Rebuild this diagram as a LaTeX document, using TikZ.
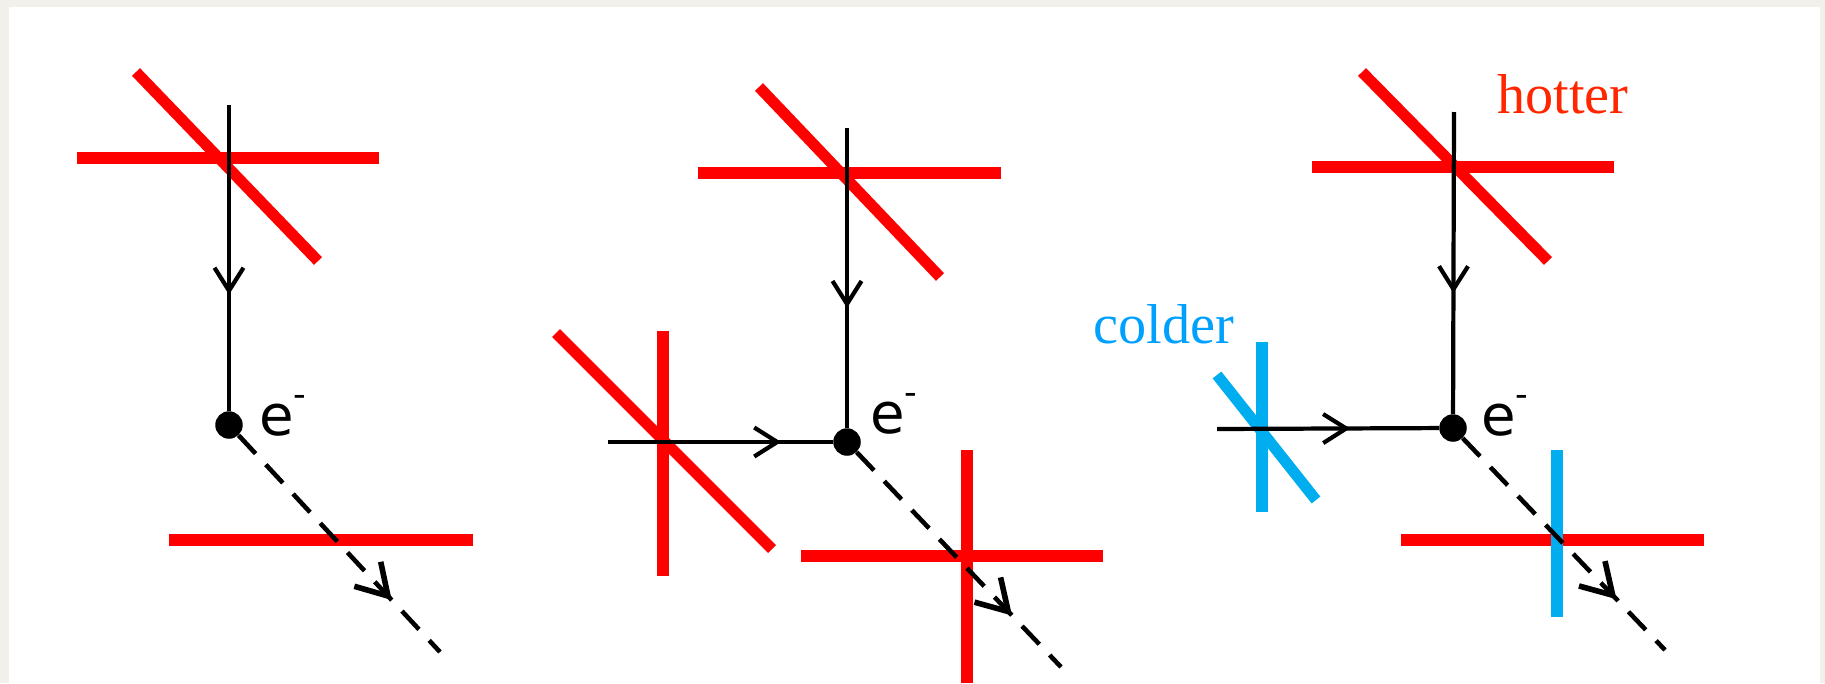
\documentclass[tikz,border=0pt]{standalone}
\usepackage{fontspec}
\setmainfont{Liberation Serif}
\newfontfamily\elfont{DejaVu Sans}
\usetikzlibrary{arrows.meta,decorations.markings}
\definecolor{hotred}{RGB}{255,0,0}
\definecolor{hottext}{RGB}{255,38,0}
\definecolor{coldblue}{RGB}{0,174,239}
\definecolor{coldtext}{RGB}{0,160,255}
\definecolor{slidebg}{RGB}{242,240,235}
\newcommand{\elec}{e\raisebox{0.5em}{\fontsize{20}{20}\selectfont -}}

\begin{document}
\begin{tikzpicture}[x=0.02cm, y=-0.02cm,
  hot/.style={hotred, line width=6.3pt},
  cold/.style={coldblue, line width=6.3pt},
  electron/.style={circle, fill=black, inner sep=0pt, minimum size=0.55cm},
  elabel/.style={font=\elfont\fontsize{32}{36}\selectfont, inner sep=0pt, anchor=base west},
  tag/.style={font=\fontsize{32}{38}\selectfont, inner sep=0pt, anchor=base west},
  beam/.style={line width=2.4pt, decoration={markings, mark=at position #1 with {\arrow{Straight Barb[length=0.46cm, width=0.58cm]}}}, postaction={decorate}},
  scatter/.style={line width=2.6pt, dash pattern=on 0.5cm off 0.3cm, decoration={markings, mark=at position #1 with {\arrow{Straight Barb[length=0.6cm, width=0.72cm, line width=3.2pt]}}}, postaction={decorate}},
]
  \fill[slidebg] (0,0) rectangle (1825,683);
  \fill[white] (9,7) rectangle (1820,683);
  \useasboundingbox (0,0) rectangle (1825,683);

  \draw[hot] (77,158) -- (379,158);
  \draw[hot] (136,72) -- (318,261);
  \draw[hot] (169,540) -- (473,540);
  \coordinate (s1) at (229,105);
  \coordinate (t1) at (440,652);
  \node[electron] (d1) at (229,425) {};
  \node[elabel] (e1) at (259,435) {\elec};
  \draw[beam=0.62] (s1) -- (d1);
  \draw[scatter=0.76] (d1) -- (t1);

  \draw[hot] (698,173) -- (1001,173);
  \draw[hot] (759,87) -- (940,277);
  \draw[hot] (663,331) -- (663,576);
  \draw[hot] (556,333) -- (772,549);
  \draw[hot] (801,556) -- (1103,556);
  \draw[hot] (967,450) -- (967,683);
  \coordinate (s2a) at (847,128);
  \coordinate (s2b) at (608,442);
  \coordinate (t2) at (1061,667);
  \node[electron] (d2) at (847,442) {};
  \node[elabel] (e2) at (870,433) {\elec};
  \draw[beam=0.6] (s2a) -- (d2);
  \draw[beam=0.77] (s2b) -- (d2);
  \draw[scatter=0.76] (d2) -- (t2);

  \draw[hot] (1312,167) -- (1614,167);
  \draw[hot] (1362,72) -- (1548,261);
  \draw[cold] (1262,342) -- (1262,512);
  \draw[cold] (1217,375) -- (1316,500);
  \draw[hot] (1401,540) -- (1704,540);
  \draw[cold] (1557,450) -- (1557,617);
  \coordinate (s3a) at (1454,112);
  \coordinate (s3b) at (1217,429);
  \coordinate (t3) at (1665,650);
  \node[electron] (d3) at (1453,428) {};
  \node[elabel] (e3) at (1481,435) {\elec};
  \draw[beam=0.6] (s3a) -- (d3);
  \draw[beam=0.6] (s3b) -- (d3);
  \draw[scatter=0.76] (d3) -- (t3);

  \node[tag, text=hottext] (hotter) at (1497,113) {hotter};
  \node[tag, text=coldtext] (colder) at (1093,343) {colder};
\end{tikzpicture}
\end{document}
